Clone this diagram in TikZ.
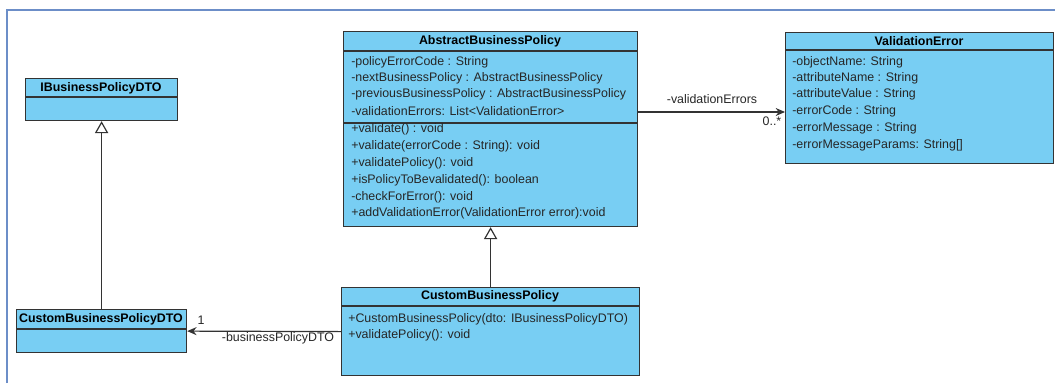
\documentclass[tikz,border=0pt]{standalone}
\usepackage{fontspec}
\setmainfont{Liberation Sans}
\usetikzlibrary{arrows.meta}
\definecolor{umlfill}{RGB}{120,206,243}
\definecolor{umlline}{RGB}{51,51,51}
\definecolor{framecol}{RGB}{108,142,200}
\begin{document}
\begin{tikzpicture}[x=0.75pt,y=-0.75pt,
  classbox/.style={draw=umlline,fill=umlfill,line width=0.9pt,rectangle,inner sep=0pt,anchor=north west},
  divider/.style={draw=umlline,line width=0.8pt},
  title/.style={font=\fontsize{9.3}{11}\selectfont\bfseries,text=black,inner sep=0pt},
  row/.style={font=\fontsize{9.3}{11}\selectfont,text=black!85,inner sep=0pt,anchor=west},
  lbl/.style={font=\fontsize{9.3}{11}\selectfont,text=black!85,inner sep=0pt},
  gen/.style={draw=umlline,line width=0.9pt,-{Triangle[open,width=10pt,length=9pt]}},
  assoc/.style={draw=umlline,line width=0.9pt,-{Stealth[width=6pt,length=7pt]}}
]
\useasboundingbox (0,0) rectangle (1055,383);
% frame
\draw[framecol,line width=1.3pt] (7,383) -- (7,10) -- (1055,10);

% AbstractBusinessPolicy
\node[classbox,minimum width=294*0.75pt,minimum height=195*0.75pt] (abp) at (343,31) {};
\draw[divider] (343,51) -- (637,51);
\draw[divider] (343,123) -- (637,123);
\node[title] (abpt) at (490,41) {AbstractBusinessPolicy};
\node[row] (abp1) at (351,62) {-policyErrorCode : String};
\node[row] (abp2) at (351,78) {-nextBusinessPolicy : AbstractBusinessPolicy};
\node[row] (abp3) at (351,94) {-previousBusinessPolicy : AbstractBusinessPolicy};
\node[row] (abp4) at (351,111) {-validationErrors: List<ValidationError>};
\node[row] (abp5) at (351,129) {+validate() : void};
\node[row] (abp6) at (351,146) {+validate(errorCode : String): void};
\node[row] (abp7) at (351,163) {+validatePolicy(): void};
\node[row] (abp8) at (351,180) {+isPolicyToBevalidated(): boolean};
\node[row] (abp9) at (351,197) {-checkForError(): void};
\node[row] (abp10) at (351,213) {+addValidationError(ValidationError error):void};

% ValidationError
\node[classbox,minimum width=268*0.75pt,minimum height=131*0.75pt] (ve) at (785,32) {};
\draw[divider] (785,50) -- (1053,50);
\node[title] (vet) at (919,41) {ValidationError};
\node[row] (ve1) at (792,62) {-objectName: String};
\node[row] (ve2) at (792,78) {-attributeName : String};
\node[row] (ve3) at (792,94) {-attributeValue : String};
\node[row] (ve4) at (792,111) {-errorCode : String};
\node[row] (ve5) at (792,128) {-errorMessage : String};
\node[row] (ve6) at (792,145) {-errorMessageParams: String[]};

% IBusinessPolicyDTO
\node[classbox,minimum width=152*0.75pt,minimum height=42*0.75pt] (ibp) at (25,78) {};
\draw[divider] (25,97) -- (177,97);
\node[title] (ibpt) at (101,88) {IBusinessPolicyDTO};

% CustomBusinessPolicyDTO
\node[classbox,minimum width=170*0.75pt,minimum height=43*0.75pt] (cdto) at (16,309) {};
\draw[divider] (16,329) -- (186,329);
\node[title] (cdtot) at (101,319) {CustomBusinessPolicyDTO};

% CustomBusinessPolicy
\node[classbox,minimum width=298*0.75pt,minimum height=88*0.75pt] (cbp) at (341,287) {};
\draw[divider] (341,306) -- (639,306);
\node[title] (cbpt) at (490,296) {CustomBusinessPolicy};
\node[row] (cbp1) at (348,319) {+CustomBusinessPolicy(dto: IBusinessPolicyDTO)};
\node[row] (cbp2) at (348,335) {+validatePolicy(): void};

% connectors
\coordinate (aline) at (700,112);
\draw[assoc] (abp.east |- aline) -- (ve.west |- aline);
\node[lbl] (l1) at (712,99) {-validationErrors};
\node[lbl] (l2) at (772,121) {0..*};

\draw[assoc] (cbp.west) -- (cdto.east);
\node[lbl] (l3) at (201,320) {1};
\node[lbl] (l4) at (278,338) {-businessPolicyDTO};

\draw[gen] (cbp.north) -- (abp.south);
\draw[gen] (cdto.north) -- (ibp.south);
\end{tikzpicture}
\end{document}
